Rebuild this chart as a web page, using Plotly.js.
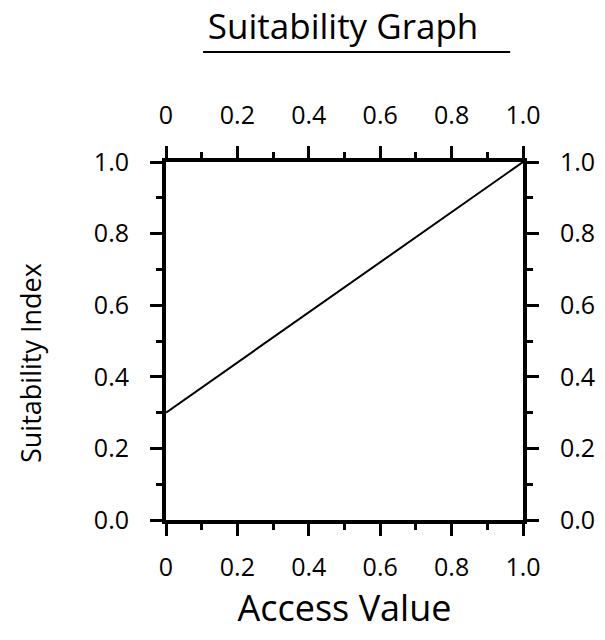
<!DOCTYPE html>
<html>
<head>
<meta charset="utf-8">
<script src="https://cdn.plot.ly/plotly-3.0.1.min.js"></script>
<style>body{margin:0;background:#fff}#chart{width:605px;height:640px}</style>
</head>
<body>
<div id="chart"></div>
<script>
// Data
const accessValue = [0, 1.0];
const suitabilityIndex = [0.3, 1.0];
const xTickVals = [0, 0.2, 0.4, 0.6, 0.8, 1.0];
const xTickText = ["0", "0.2", "0.4", "0.6", "0.8", "1.0"];
const yTickVals = [0, 0.2, 0.4, 0.6, 0.8, 1.0];
const yTickText = ["0.0", "0.2", "0.4", "0.6", "0.8", "1.0"];

const FONT = "Open Sans, Noto Sans, sans-serif";

const traces = [
  {x: accessValue, y: suitabilityIndex, mode: "lines", line: {color: "#000", width: 2}, hoverinfo: "skip", showlegend: false},
  {x: accessValue, y: suitabilityIndex, xaxis: "x2", yaxis: "y2", mode: "lines", line: {color: "rgba(0,0,0,0)", width: 0}, hoverinfo: "skip", showlegend: false}
];

function axisBase(vals, text, standoff) {
  return {
    range: [0, 1], showgrid: false, zeroline: false, showline: true,
    linecolor: "#000", linewidth: 4,
    ticks: "outside", ticklen: 12, tickwidth: 3, tickcolor: "#000",
    tickmode: "array", tickvals: vals, ticktext: text,
    ticklabelstandoff: standoff,
    tickfont: {family: FONT, size: 25, color: "#000"},
    minor: {dtick: 0.1, ticklen: 6, tickwidth: 3, tickcolor: "#000", ticks: "outside", showgrid: false},
    fixedrange: true
  };
}

const layout = {
  width: 605, height: 640,
  margin: {l: 166, r: 82, t: 162, b: 120},
  paper_bgcolor: "#fff", plot_bgcolor: "#fff",
  showlegend: false,
  title: {text: "Suitability Graph", font: {family: FONT, size: 35, color: "#000"}, x: 0.496, xanchor: "center", xref: "paper", y: 0.958, yanchor: "middle"},
  xaxis: Object.assign(axisBase(xTickVals, xTickText, 10), {
    side: "bottom",
    title: {text: "Access Value", font: {family: FONT, size: 36, color: "#000"}, standoff: 12}
  }),
  xaxis2: Object.assign(axisBase(xTickVals, xTickText, 12), {side: "top", overlaying: "x", anchor: "y"}),
  yaxis: Object.assign(axisBase(yTickVals, yTickText, 16), {side: "left"}),
  yaxis2: Object.assign(axisBase(yTickVals, yTickText, 16), {side: "right", overlaying: "y", anchor: "x"}),
  annotations: [
    {text: "Suitability Index", textangle: -90, xref: "paper", yref: "paper", x: -0.381, y: 0.4385,
     xanchor: "center", yanchor: "middle", showarrow: false, font: {family: FONT, size: 27, color: "#000"}}
  ],
  shapes: [
    {type: "line", xref: "paper", yref: "paper", x0: 0.104, x1: 0.964, y0: 1.307, y1: 1.307, line: {color: "#000", width: 2}}
  ]
};

Plotly.newPlot("chart", traces, layout, {displayModeBar: false, staticPlot: true});
</script>
</body>
</html>
